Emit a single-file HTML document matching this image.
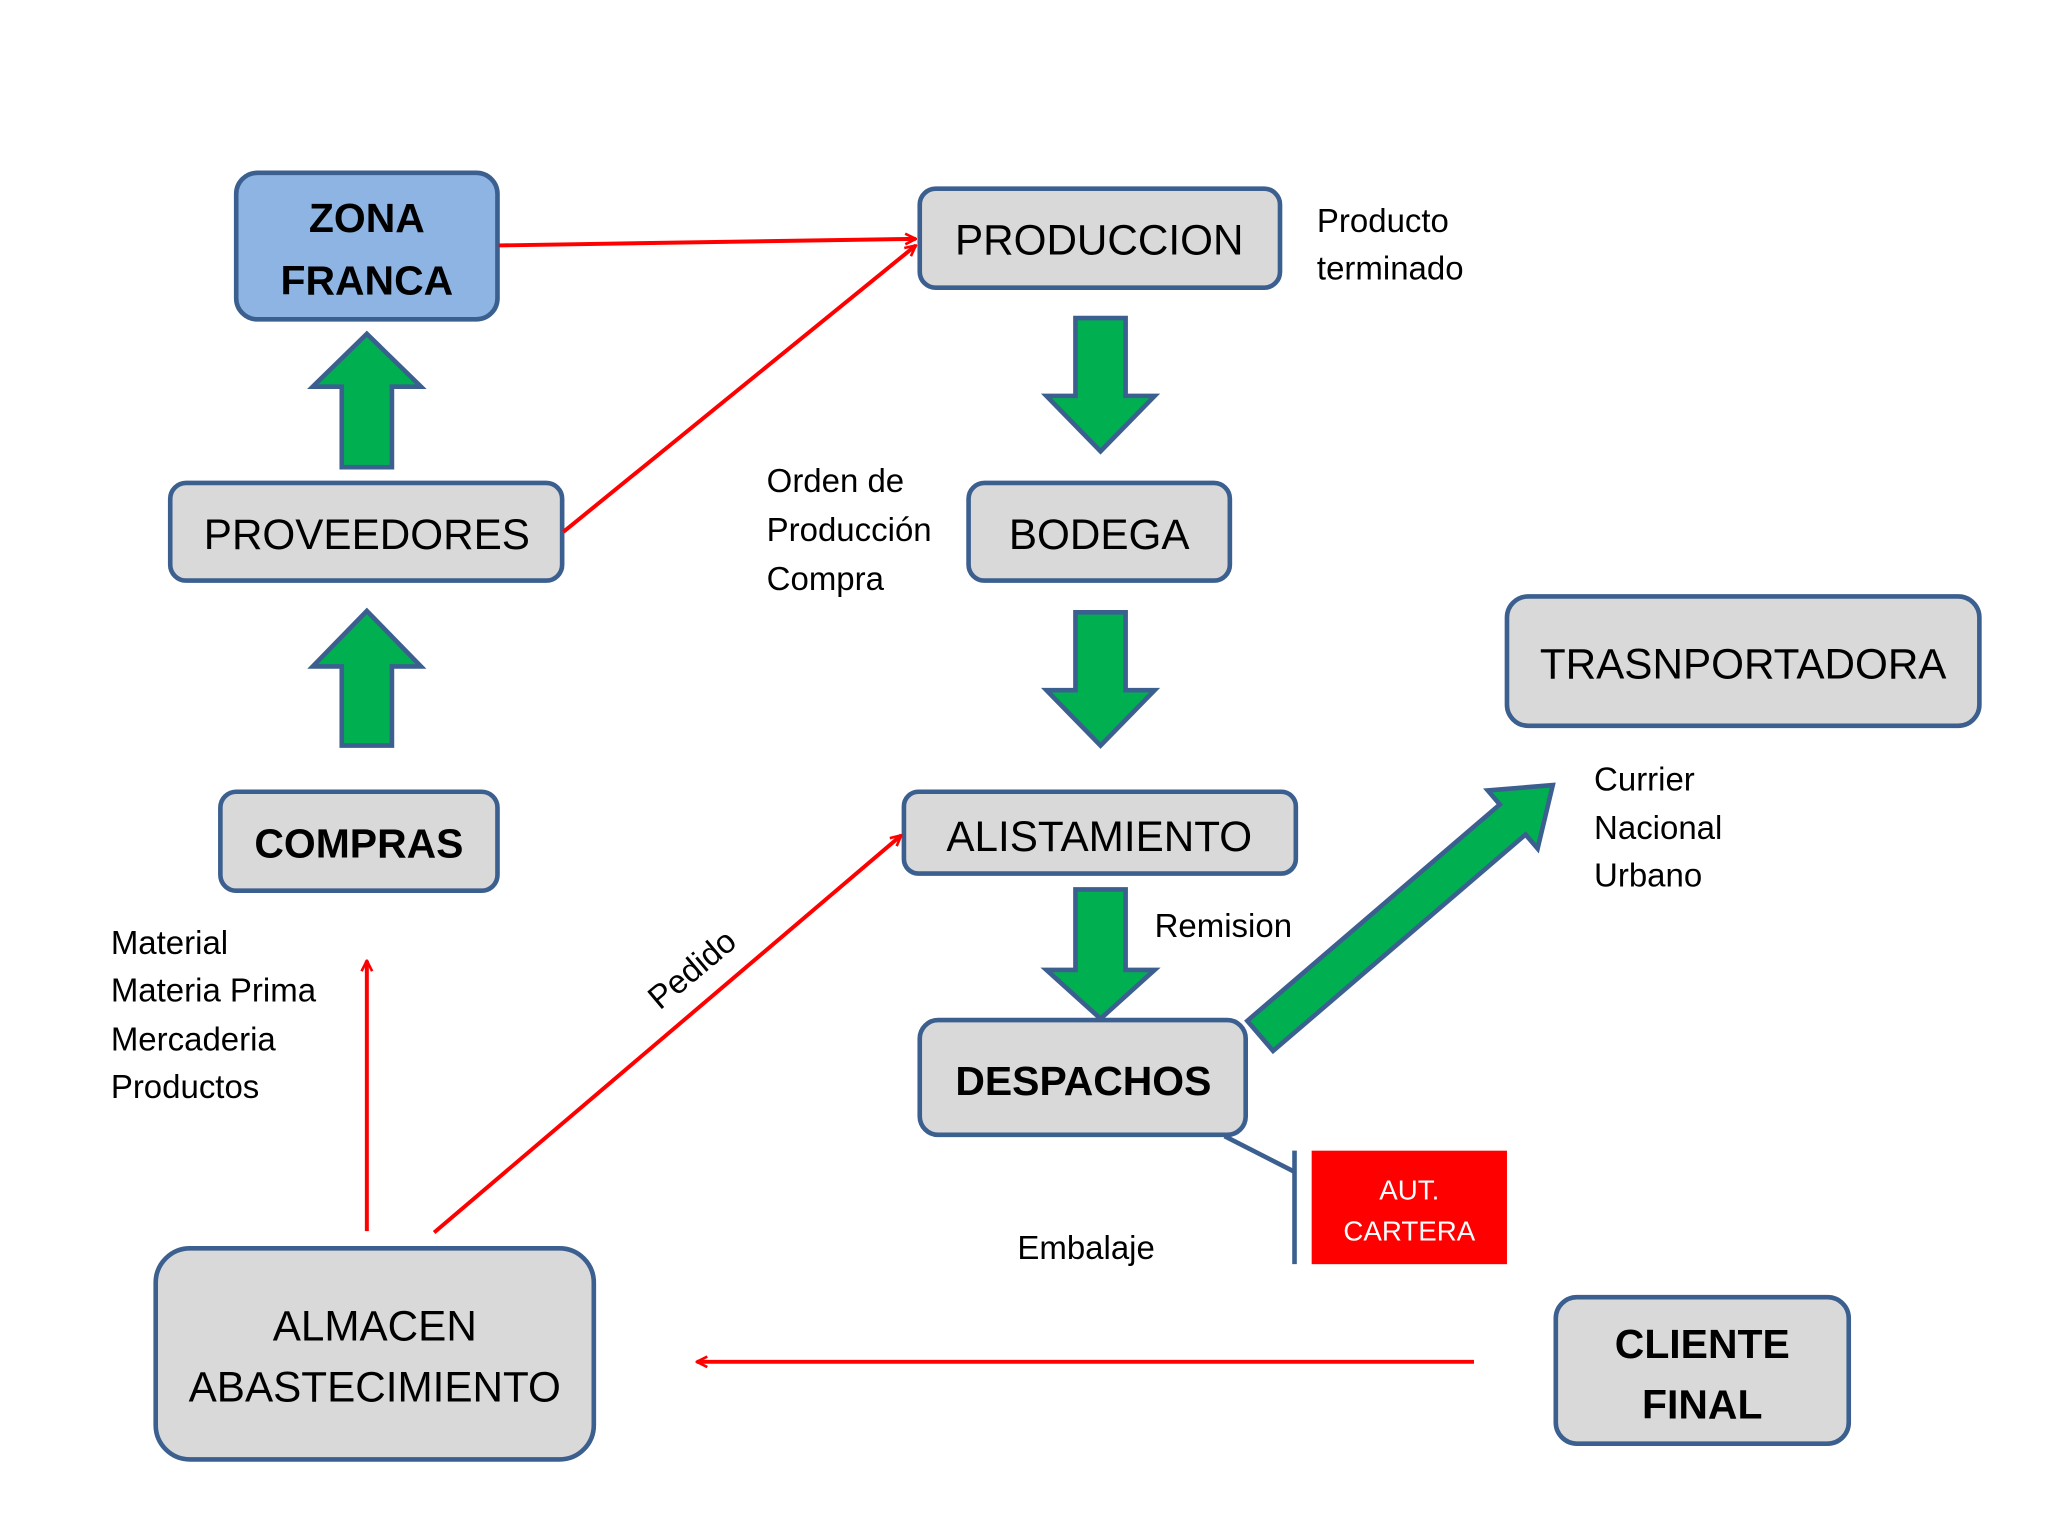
<!DOCTYPE html>
<html><head><meta charset="utf-8"><style>html,body{margin:0;padding:0;background:#fff}svg{display:block}</style></head>
<body>
<svg width="2048" height="1536" viewBox="0 0 1552 1164" preserveAspectRatio="none" xmlns="http://www.w3.org/2000/svg" font-family="Liberation Sans, sans-serif">
<defs>
<marker id="ah" markerWidth="10" markerHeight="10" refX="9" refY="5" orient="auto" markerUnits="userSpaceOnUse" viewBox="0 0 10 10">
<path d="M1,1 L9,5 L1,9" fill="none" stroke="#f00" stroke-width="2"/>
</marker>
</defs>
<rect width="1552" height="1164" fill="#fff"/>
<g stroke="#3b5f8f" stroke-width="3.5">
<rect x="179" y="131" width="198" height="111" rx="16" fill="#8db4e3"/>
<rect x="697" y="143" width="273" height="75" rx="12" fill="#d9d9d9"/>
<rect x="734" y="366" width="198" height="74" rx="12" fill="#d9d9d9"/>
<rect x="129" y="366" width="297" height="74" rx="12" fill="#d9d9d9"/>
<rect x="167" y="600" width="210" height="75" rx="12" fill="#d9d9d9"/>
<rect x="685" y="600" width="297" height="62" rx="11" fill="#d9d9d9"/>
<rect x="697" y="773" width="247" height="87" rx="14" fill="#d9d9d9"/>
<rect x="1142" y="452" width="358" height="98" rx="16" fill="#d9d9d9"/>
<rect x="1179" y="983" width="222" height="111" rx="16" fill="#d9d9d9"/>
<rect x="118" y="946" width="332" height="160" rx="26" fill="#d9d9d9"/>
</g>
<g fill="#00b050" stroke="#3b5f8f" stroke-width="3.5" stroke-linejoin="miter">
<polygon points="815,241 853,241 853,300 875,300 834,342 793,300 815,300"/>
<polygon points="815,464 853,464 853,523 875,523 834,565 793,523 815,523"/>
<polygon points="815,674 853,674 853,735 875,735 834,772 793,735 815,735"/>
<polygon points="259,565 297,565 297,505 319,505 278,463 237,505 259,505"/>
<polygon points="259,354 297,354 297,293 319,293 278,253 237,293 259,293"/>
<g transform="translate(955,785) rotate(-40.6)">
<polygon points="0,-15 252,-15 252,-29 292,0 252,29 252,15 0,15"/>
</g>
</g>
<g stroke="#f00" stroke-width="3" fill="none">
<line x1="378" y1="186" x2="694" y2="181" marker-end="url(#ah)"/>
<line x1="427" y1="403" x2="694" y2="186" marker-end="url(#ah)"/>
<line x1="329" y1="934" x2="683" y2="633" marker-end="url(#ah)"/>
<line x1="278" y1="933" x2="278" y2="728" marker-end="url(#ah)"/>
<line x1="1117" y1="1032" x2="528" y2="1032" marker-end="url(#ah)"/>
</g>
<g stroke="#3b5f8f" stroke-width="3.5" fill="none">
<polyline points="928,861 981,888"/>
<line x1="981" y1="872" x2="981" y2="958"/>
</g>
<rect x="994" y="872" width="148" height="86" fill="#f00"/>
<g fill="#000" text-anchor="middle">
<text x="278" y="176" font-size="31" font-weight="bold">ZONA</text>
<text x="278" y="223" font-size="31" font-weight="bold">FRANCA</text>
<text x="833" y="193" font-size="32">PRODUCCION</text>
<text x="833" y="416" font-size="32">BODEGA</text>
<text x="278" y="416" font-size="32">PROVEEDORES</text>
<text x="272" y="650" font-size="31" font-weight="bold">COMPRAS</text>
<text x="833" y="645" font-size="32">ALISTAMIENTO</text>
<text x="821" y="830" font-size="31" font-weight="bold">DESPACHOS</text>
<text x="1321" y="514" font-size="32">TRASNPORTADORA</text>
<text x="1290" y="1029" font-size="31" font-weight="bold">CLIENTE</text>
<text x="1290" y="1075" font-size="31" font-weight="bold">FINAL</text>
<text x="284" y="1016" font-size="32">ALMACEN</text>
<text x="284" y="1062" font-size="32">ABASTECIMIENTO</text>
<text x="1068" y="909" font-size="21" fill="#fff">AUT.</text>
<text x="1068" y="940" font-size="21" fill="#fff">CARTERA</text>
</g>
<g fill="#000" font-size="25">
<text x="998" y="176">Producto</text>
<text x="998" y="212">terminado</text>
<text x="581" y="373">Orden de</text>
<text x="581" y="410">Producción</text>
<text x="581" y="447">Compra</text>
<text x="875" y="710">Remision</text>
<text x="1208" y="599">Currier</text>
<text x="1208" y="636">Nacional</text>
<text x="1208" y="672">Urbano</text>
<text x="771" y="954">Embalaje</text>
<text x="84" y="723">Material</text>
<text x="84" y="759">Materia Prima</text>
<text x="84" y="796">Mercaderia</text>
<text x="84" y="832">Productos</text>
<text x="0" y="0" transform="translate(500,766) rotate(-40)">Pedido</text>
</g>
</svg>
</body></html>
